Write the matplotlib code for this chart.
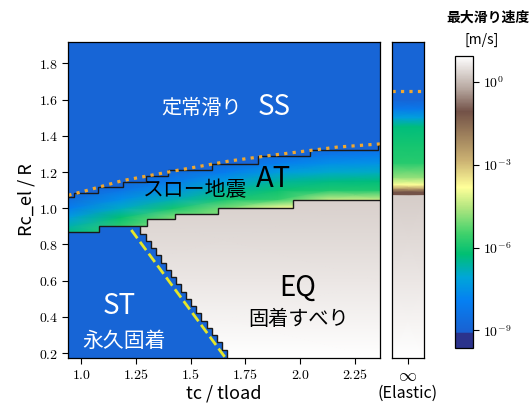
import numpy as np
import matplotlib
matplotlib.use("Agg")
import matplotlib.pyplot as plt
from matplotlib.colors import LinearSegmentedColormap, LogNorm
from matplotlib.cm import ScalarMappable
from matplotlib.patches import Polygon

plt.rcParams['font.family'] = ['Noto Sans CJK JP', 'DejaVu Sans']
plt.rcParams['mathtext.fontset'] = 'cm'

# axis ranges
tc_lim = [0.94, 2.365]
rc_lim = [0.172, 1.919]

# log10 of the max slip velocity [m/s]
logv_min, logv_max = -9.62, 0.94
logv_ss = -8.9

# boundary SS / AT (black staircase)
at_top_edges = [0.94, 0.965, 1.078, 1.192, 1.293, 1.394, 1.595, 1.806, 2.044, 2.355, 2.365]
at_top_rc = [1.062, 1.086, 1.119, 1.147, 1.178, 1.212, 1.245, 1.286, 1.322, 1.35]

# boundary AT / (ST, EQ)
at_bot_edges = [0.94, 1.082, 1.302, 1.426, 1.623, 1.966, 2.365]
at_bot_rc = [0.871, 0.902, 0.939, 0.967, 1.003, 1.044]

# boundary ST / EQ, rows from bottom to top
st_rc_edges = [0.172, 0.22, 0.26, 0.30, 0.34, 0.38, 0.42, 0.46, 0.50, 0.54,
               0.58, 0.62, 0.66, 0.70, 0.74, 0.78, 0.82, 0.86, 0.902]
st_tc = [1.665, 1.641, 1.618, 1.595, 1.572, 1.548, 1.525, 1.502, 1.479,
         1.456, 1.432, 1.409, 1.386, 1.363, 1.340, 1.316, 1.293, 1.27]

# slip velocity inside the AT band
at_tc = [0.94, 1.18, 1.42, 1.66, 1.90, 2.13, 2.365]
at_rc = [0.85, 0.90, 0.95, 1.00, 1.05, 1.10, 1.15, 1.20, 1.25, 1.30, 1.36]
at_logv = [
    [-6.2, -5.6, -4.8, -5.0, -3.8, -4.0, -4.0],
    [-6.7, -5.7, -4.8, -5.0, -3.8, -4.0, -4.0],
    [-7.3, -6.2, -5.0, -5.0, -3.8, -4.0, -4.0],
    [-8.0, -6.9, -6.0, -5.0, -3.8, -4.0, -4.0],
    [-8.6, -7.6, -6.8, -6.0, -5.7, -4.4, -4.4],
    [-8.9, -8.3, -7.5, -6.6, -6.1, -5.9, -5.9],
    [-8.9, -8.9, -8.1, -7.3, -6.6, -6.4, -6.3],
    [-8.9, -8.9, -8.7, -8.0, -7.3, -7.0, -6.9],
    [-8.9, -8.9, -8.9, -8.7, -8.0, -7.6, -7.5],
    [-8.9, -8.9, -8.9, -8.9, -8.7, -8.3, -8.1],
    [-8.9, -8.9, -8.9, -8.9, -8.9, -8.9, -8.8],
]

# slip velocity in the EQ region
eq_rc = [0.172, 0.6, 1.05]
eq_logv = [0.94, 0.6, 0.3]

# elastic column profile
el_rc = [0.172, 0.6, 1.072, 1.076, 1.09, 1.11, 1.13, 1.17, 1.25, 1.35, 1.45, 1.50, 1.55, 1.60, 1.919]
el_logv = [0.94, 0.6, 0.25, -1.1, -1.1, -2.6, -3.8, -4.8, -5.8, -6.0, -6.3, -7.2, -8.2, -8.9, -8.9]
el_dots_rc = 1.648

# orange dotted line and yellow dashed line
orange_tc = [0.94, 1.0, 1.186, 1.42, 1.678, 1.88, 2.166, 2.365]
orange_rc = [1.072, 1.09, 1.152, 1.205, 1.261, 1.294, 1.337, 1.355]
yellow_tc = [1.228, 1.655]
yellow_rc = [0.88, 0.18]

xticks = [1.0, 1.25, 1.5, 1.75, 2.0, 2.25]
xtick_labels = ['1.0', '1.25', '1.5', '1.75', '2.0', '2.25']
yticks = [0.2, 0.4, 0.6, 0.8, 1.0, 1.2, 1.4, 1.6, 1.8]
ytick_labels = ['0.2', '0.4', '0.6', '0.8', '1.0', '1.2', '1.4', '1.6', '1.8']
cbar_ticks = [1e0, 1e-3, 1e-6, 1e-9]
cbar_labels = ['10^{0}', '10^{-3}', '10^{-6}', '10^{-9}']

cmap = LinearSegmentedColormap.from_list('slip', [
    (0.000, (0.17, 0.20, 0.55)),
    (0.048, (0.17, 0.20, 0.55)),
    (0.052, (0.10, 0.38, 0.82)),
    (0.160, (0.02, 0.50, 0.95)),
    (0.240, (0.00, 0.65, 0.85)),
    (0.320, (0.00, 0.75, 0.45)),
    (0.390, (0.25, 0.82, 0.42)),
    (0.480, (0.70, 0.90, 0.50)),
    (0.550, (1.00, 1.00, 0.60)),
    (0.640, (0.80, 0.70, 0.45)),
    (0.810, (0.45, 0.32, 0.28)),
    (0.890, (0.72, 0.66, 0.63)),
    (1.000, (1.00, 1.00, 1.00)),
], N=512)
norm = LogNorm(10 ** logv_min, 10 ** logv_max)


def stair_points(edges, levels):
    xs, ys = [], []
    for i, lv in enumerate(levels):
        xs += [edges[i], edges[i + 1]]
        ys += [lv, lv]
    return xs, ys


fig = plt.figure(figsize=(5.31, 4.15), dpi=100)
ax = fig.add_axes([68.3 / 531, 1 - 358.3 / 415, 311.7 / 531, 316.6 / 415])
ax_el = fig.add_axes([391.7 / 531, 1 - 358.3 / 415, 32.3 / 531, 316.6 / 415])
cax = fig.add_axes([454.5 / 531, 1 - 347.5 / 415, 18.5 / 531, 291.5 / 415])

# background: steady slip / stuck
ax.pcolormesh(tc_lim, rc_lim, [[10 ** logv_ss]], cmap=cmap, norm=norm)

# AT band
top_x, top_y = stair_points(at_top_edges, at_top_rc)
bot_x, bot_y = stair_points(at_bot_edges, at_bot_rc)
at_poly = Polygon(list(zip(top_x, top_y)) + list(zip(bot_x[::-1], bot_y[::-1])),
                  closed=True, transform=ax.transData)
m = ax.pcolormesh(at_tc, at_rc, 10 ** np.array(at_logv), shading='gouraud',
                  cmap=cmap, norm=norm)
m.set_clip_path(at_poly)

# EQ region
eq_pts = [(max(x, st_tc[-1]), y) for x, y in zip(bot_x, bot_y)]
eq_pts += [(tc_lim[1], rc_lim[0]), (st_tc[0], rc_lim[0])]
for i, t in enumerate(st_tc):
    eq_pts += [(t, st_rc_edges[i]), (t, st_rc_edges[i + 1])]
eq_poly = Polygon(eq_pts, closed=True, transform=ax.transData)
eq_c = 10 ** np.column_stack([eq_logv, eq_logv])
m = ax.pcolormesh(tc_lim, eq_rc, eq_c, shading='gouraud', cmap=cmap, norm=norm)
m.set_clip_path(eq_poly)

# boundaries
line_kw = dict(color='#1a1a1a', lw=1.0, baseline=None)
ax.stairs(at_top_rc, at_top_edges, **line_kw)
ax.stairs(at_bot_rc, at_bot_edges, **line_kw)
ax.stairs(st_tc, st_rc_edges, orientation='horizontal', **line_kw)
ax.plot(orange_tc, orange_rc, ls=':', color='#f0a830', lw=2.3)
ax.plot(yellow_tc, yellow_rc, ls='--', color='#e6e628', lw=2.0)

# region labels
ax.text(1.549, 1.552, '定常滑り', color='white', fontsize=14.5, ha='center', va='center')
ax.text(1.881, 1.561, 'SS', color='white', fontsize=20, ha='center', va='center')
ax.text(1.522, 1.101, 'スロー地震', color='black', fontsize=15, ha='center', va='center')
ax.text(1.877, 1.161, 'AT', color='black', fontsize=21, ha='center', va='center')
ax.text(1.987, 0.559, 'EQ', color='black', fontsize=20, ha='center', va='center')
ax.text(1.991, 0.384, '固着すべり', color='black', fontsize=14.5, ha='center', va='center')
ax.text(1.172, 0.462, 'ST', color='white', fontsize=20, ha='center', va='center')
ax.text(1.194, 0.269, '永久固着', color='white', fontsize=15, ha='center', va='center')

ax.set_xlim(tc_lim)
ax.set_ylim(rc_lim)
ax.set_xticks(xticks, labels=['$%s$' % s for s in xtick_labels])
ax.set_yticks(yticks, labels=['$%s$' % s for s in ytick_labels])
ax.tick_params(labelsize=10, length=4, width=0.8, pad=3)
ax.set_xlabel('tc / tload', fontsize=13, labelpad=2)
ax.set_ylabel('Rc_el / R', fontsize=13, labelpad=3)

# elastic column
el_c = 10 ** np.column_stack([el_logv, el_logv])
ax_el.pcolormesh([0, 1], el_rc, el_c, shading='gouraud', cmap=cmap, norm=norm)
ax_el.plot([0, 1], [el_dots_rc, el_dots_rc], ls=':', color='#f0a830', lw=2.3)
ax_el.set_xlim(0, 1)
ax_el.set_ylim(rc_lim)
ax_el.set_yticks([])
ax_el.set_xticks([0.5], labels=[r'$\infty$'])
ax_el.tick_params(labelsize=13, length=4, width=0.8, pad=2)
ax_el.set_xlabel('(Elastic)', fontsize=11.5, labelpad=0)

for a in (ax, ax_el, cax):
    for sp in a.spines.values():
        sp.set_linewidth(0.9)

# colorbar
cb = fig.colorbar(ScalarMappable(norm=norm, cmap=cmap), cax=cax)
cb.set_ticks(cbar_ticks, labels=['$%s$' % s for s in cbar_labels])
cax.minorticks_off()
cax.tick_params(labelsize=10, length=4, width=0.8, pad=3)
cb.outline.set_linewidth(0.9)
fig.text(488 / 531, 1 - 18 / 415, '最大滑り速度', fontsize=10, fontweight='bold',
         ha='center', va='center')
fig.text(482 / 531, 1 - 40 / 415, '[m/s]', fontsize=10, ha='center', va='center')

fig.savefig('out.png', dpi=100)
